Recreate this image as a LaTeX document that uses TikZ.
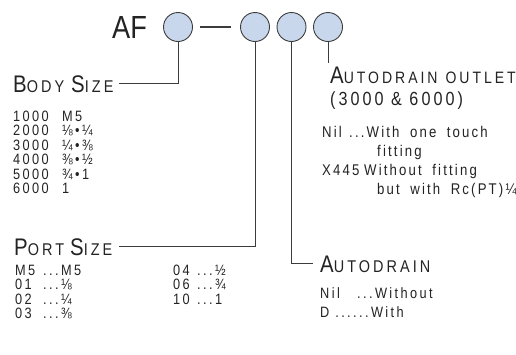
\documentclass[tikz,border=0pt]{standalone}
\usepackage{fontspec}
\setmainfont{Liberation Sans}[FakeStretch=0.85]
\newfontfamily\spaced{Liberation Sans}[FakeStretch=0.85, LetterSpace=16]
\newfontfamily\titlefont{Liberation Sans}[FakeStretch=0.85, LetterSpace=18]
\newfontfamily\widefont{Liberation Sans}[FakeStretch=0.85, LetterSpace=14, WordSpace=1.8]
\usetikzlibrary{positioning}

\definecolor{bubblefill}{RGB}{200,215,235}
\definecolor{ink}{RGB}{35,35,35}
\definecolor{wirecol}{RGB}{60,60,60}

\newcommand\hicap[1]{{\fontsize{24}{24}\selectfont #1}}
\newcommand\locap[1]{{\fontsize{17}{17}\selectfont #1}}

\begin{document}
\begin{tikzpicture}[x=1pt, y=-1pt,
        bubble/.style={circle, draw=wirecol, fill=bubblefill, line width=0.9pt, minimum size=29pt, inner sep=0pt},
        wire/.style={draw=wirecol, line width=0.8pt},
        title/.style={anchor=base west, inner xsep=0pt, inner ysep=3pt, text=ink, font=\titlefont},
        list/.style={anchor=base west, inner sep=0pt, text=ink, font=\spaced\fontsize{15}{13.7}\selectfont},
        widelist/.style={list, font=\spaced\fontsize{15}{19.5}\selectfont}
    ]
    \useasboundingbox (0,0) rectangle (516,354);

    \node[anchor=base west, inner sep=0pt, text=ink, font=\fontsize{32}{32}\selectfont] (af) at (112,38) {AF};

    \node[bubble] (c1) at (178,27) {};
    \node[bubble] (c2) at (255,27) {};
    \node[bubble] (c3) at (291.5,27) {};
    \node[bubble] (c4) at (328,27) {};

    \draw[wire, line width=2pt] ([xshift=7pt]c1.east) -- ([xshift=-9pt]c2.west);

    \node[title] (bodytitle) at (13,92) {\hicap{B}\locap{ODY}\hspace{7pt}\hicap{S}\locap{IZE}};
    \node[list] (bodylist) at (13,121) {\begin{tabular}[t]{@{}l@{}}
        \makebox[49pt][l]{1000}M5\\
        \makebox[49pt][l]{2000}⅛•¼\\
        \makebox[49pt][l]{3000}¼•⅜\\
        \makebox[49pt][l]{4000}⅜•½\\
        \makebox[49pt][l]{5000}¾•1\\
        \makebox[49pt][l]{6000}1
    \end{tabular}};

    \node[title] (porttitle) at (14,255) {\hicap{P}\locap{ORT}\hspace{6pt}\hicap{S}\locap{IZE}};
    \node[list] (portlist) at (15,275) {\begin{tabular}[t]{@{}l@{}}
        \makebox[28pt][l]{M5}\makebox[130pt][l]{...M5}\makebox[24pt][l]{04}...½\\
        \makebox[28pt][l]{01}\makebox[130pt][l]{...⅛}\makebox[24pt][l]{06}...¾\\
        \makebox[28pt][l]{02}\makebox[130pt][l]{...¼}\makebox[24pt][l]{10}...1\\
        \makebox[28pt][l]{03}...⅜
    \end{tabular}};

    \node[title] (outlettitle) at (330,83) {\fontsize{24}{24}\selectfont A\fontsize{16.5}{16.5}\selectfont UTODRAIN\hspace{8pt}OUTLET};
    \node[title, font=\spaced\fontsize{19}{19}\selectfont] (outletnote) at (330,105) {(3000 \& 6000)};
    \node[widelist, font=\widefont\fontsize{15.5}{19.3}\selectfont] (outletlist) at (322,137) {\begin{tabular}[t]{@{}l@{}}
        \makebox[27pt][l]{Nil}...With one touch\\
        \hspace*{55pt}fitting\\
        \makebox[42pt][l]{X445}Without fitting\\
        \hspace*{55pt}but with Rc(PT)¼
    \end{tabular}};

    \node[title] (draintitle) at (320,272) {\hicap{A}\locap{UTODRAIN}};
    \node[widelist] (drainlist) at (320,298) {\begin{tabular}[t]{@{}l@{}}
        \makebox[37pt][l]{Nil}...Without\\
        D ......With
    \end{tabular}};

    \draw[wire] (c1.south) |- ([xshift=5pt]bodytitle.east);
    \draw[wire] (c2.south) |- ([xshift=6pt]porttitle.east);
    \draw[wire] (c3.south) |- ([xshift=-7pt]draintitle.west);
    \draw[wire] (c4.south) -- (c4.south |- outlettitle.north);

\end{tikzpicture}
\end{document}
